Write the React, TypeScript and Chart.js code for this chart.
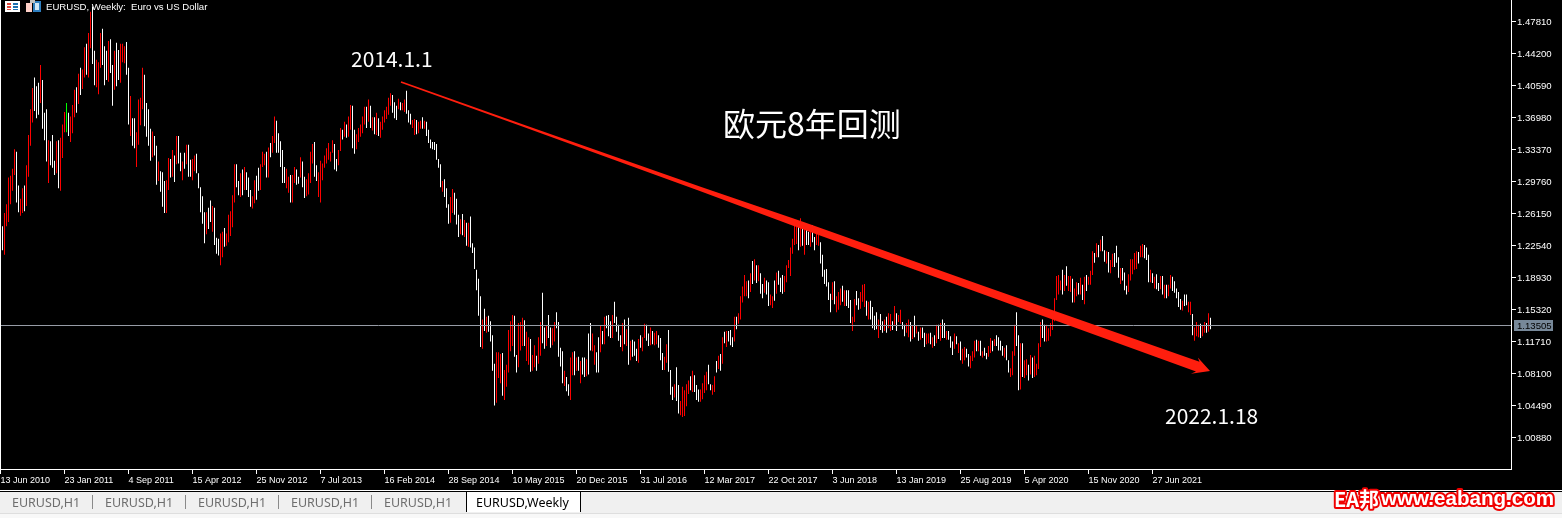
import React, { useEffect, useRef } from "react";
import { Chart, registerables } from "chart.js";

Chart.register(...registerables);

const title = "EURUSD, Weekly:  Euro vs US Dollar";
const xTickLabels = ["13 Jun 2010","23 Jan 2011","4 Sep 2011","15 Apr 2012","25 Nov 2012","7 Jul 2013","16 Feb 2014","28 Sep 2014","10 May 2015","20 Dec 2015","31 Jul 2016","12 Mar 2017","22 Oct 2017","3 Jun 2018","13 Jan 2019","25 Aug 2019","5 Apr 2020","15 Nov 2020","27 Jun 2021"];
const yTickValues = [1.4781,1.442,1.4059,1.3698,1.3337,1.2976,1.2615,1.2254,1.1893,1.1532,1.1171,1.081,1.0449,1.0088];
const currentPrice = 1.13505;
const tabs = ["EURUSD,H1","EURUSD,H1","EURUSD,H1","EURUSD,H1","EURUSD,H1","EURUSD,Weekly"];
const barsPerTick = 32;

// R = up week, W = down week, G = the one highlighted bar
const directions = (
"WRRRRRRWWR"+"RWRRRRWWWR"+"WWWRWWWRWR"+"RRGWRRRWRW"+"RRWRRWWRRR"+"WWWRWWRWWR"+"RRWWRWWRRR"+"RWWWWRWWRW"+"WWRRWRWRWW"+"RWRWWRRWWW"+"WWRWWRWWWR"+"RWRRRRRWW"+
"RWRWWWRRWWRRRWRWRRWW"+"WWWRRWRRWWRWWRRRRWWR"+"RRRRRRRWWRRWRWRRWWRR"+"RRRWRWRWRWRRRRRRWWWR"+"WRRWWWRRWRRWRWWWWWWW"+"WRWWWRRWWWRWRWRWWWWW"+
"WRWRWWWWRRRWRRRRRWWR"+"RRWRRWRRWRRWWRWWRRWW"+"WWRWWRRWRWRWWRWWRRWW"+"RWRWWWRWWWWRWRWRWWWR"+"WRRWWRWRRWWWRRWWWRWW"+"RRRRRWRWWWRRRRWWRRWR"+
"WRWRWWWRWRRRRRWRWRWR"+"WWRWWRRWRWWWRRRRRRRW"+"RWRWWRWWRRWWWWWWRWRR"+"RWRWWWRRWWRRRWRWWWWR"+"WWRWRRWRWRRWWRRWRWRW"+"RWWRRWRWRWRWWRWWWRWR"+
"WRRWWRRRWRWRWWRRWRWW"+"WWRWWRRRWWRWRRWRWRRR"+"RWWRRRRRRRRWRWRRWRRW"+"RWRWRRRWRWRWWRWRRWWW"+"RWWWRRRRRWRRWWWRWRWW"+"RWRWRRWWWWWRWWRRWRRR"+"WRRWRW"
).split("");

const highs = [
1.247,1.262,1.272,1.302,1.304,1.312,1.334,1.331,1.293,1.278,
1.290,1.293,1.316,1.350,1.379,1.403,1.415,1.405,1.409,1.429,
1.412,1.375,1.379,1.344,1.343,1.350,1.321,1.343,1.344,1.347,
1.362,1.376,1.386,1.375,1.371,1.384,1.401,1.404,1.419,1.426,
1.424,1.449,1.453,1.465,1.489,1.495,1.445,1.435,1.432,1.465,
1.470,1.450,1.445,1.456,1.458,1.429,1.445,1.454,1.446,1.453,
1.453,1.450,1.455,1.426,1.394,1.369,1.369,1.353,1.390,1.392,
1.426,1.418,1.386,1.379,1.357,1.354,1.349,1.338,1.320,1.309,
1.308,1.298,1.299,1.324,1.323,1.333,1.327,1.349,1.349,1.330,
1.320,1.330,1.339,1.339,1.322,1.323,1.327,1.329,1.307,1.291,
1.281,1.263,1.263,1.268,1.276,1.270,1.268,1.234,1.233,1.239,
1.241,1.245,1.239,1.260,1.264,1.282,1.317,1.317,1.298,
1.307,1.311,1.314,1.308,1.302,1.288,1.281,1.299,1.304,1.313,
1.317,1.331,1.329,1.331,1.336,1.341,1.349,1.371,1.366,1.352,
1.343,1.333,1.314,1.312,1.303,1.305,1.305,1.314,1.311,1.303,
1.325,1.320,1.303,1.300,1.307,1.331,1.340,1.342,1.316,1.308,
1.321,1.318,1.327,1.335,1.341,1.331,1.344,1.340,1.323,1.333,
1.358,1.356,1.365,1.362,1.371,1.384,1.383,1.356,1.351,1.358,
1.362,1.371,1.382,1.382,1.390,1.383,1.370,1.370,1.375,1.369,
1.365,1.371,1.378,1.382,1.392,1.397,1.395,1.387,1.383,1.391,
1.387,1.386,1.390,1.400,1.378,1.374,1.367,1.368,1.367,1.365,
1.366,1.370,1.366,1.365,1.356,1.345,1.342,1.342,1.340,1.323,
1.317,1.298,1.300,1.290,1.272,1.280,1.289,1.285,1.278,1.260,
1.255,1.261,1.254,1.251,1.251,1.258,1.228,
1.223,1.198,1.188,1.168,1.142,1.154,1.145,1.146,1.140,1.124,
1.092,1.105,1.105,1.103,1.104,1.085,1.091,1.130,1.140,1.147,
1.146,1.102,1.138,1.139,1.144,1.141,1.128,1.122,1.120,1.102,
1.113,1.101,1.122,1.139,1.172,1.133,1.135,1.147,1.133,1.132,
1.139,1.150,1.139,1.110,1.106,1.084,1.077,1.069,1.099,1.105,
1.106,1.099,1.100,1.095,1.099,1.099,1.097,1.126,1.138,1.126,
1.113,1.105,1.122,1.135,1.129,1.145,1.146,1.147,1.140,1.147,
1.162,1.145,1.136,1.124,1.138,1.142,1.131,1.144,1.118,1.119,
1.117,1.109,1.120,1.124,1.122,1.137,1.136,1.126,1.133,1.129,
1.127,1.129,1.124,1.121,1.104,1.100,1.114,1.130,1.085,1.066,
1.069,1.088,1.068,1.050,1.066,1.062,1.069,1.073,1.078,1.084,
1.079,1.068,1.063,1.063,1.070,1.079,1.083,1.091,1.069,1.068,
1.078,1.095,1.101,1.103,1.122,1.128,1.129,1.129,1.130,1.122,
1.145,1.145,1.149,
1.168,1.179,1.192,1.185,1.186,1.194,1.208,1.210,1.203,1.203,
1.194,1.182,1.189,1.186,1.184,1.170,1.168,1.186,1.195,1.197,
1.189,1.192,1.191,1.203,1.209,1.223,1.233,1.250,1.254,1.247,
1.256,1.244,1.246,1.243,1.241,1.243,1.248,1.235,1.243,1.241,
1.229,1.215,1.198,1.199,1.184,1.171,1.184,1.185,1.168,1.173,
1.177,1.180,1.175,1.175,1.175,1.164,1.145,1.165,1.174,1.166,
1.173,1.181,1.182,1.163,1.162,1.163,1.156,1.146,1.150,1.142,
1.148,1.140,1.142,1.145,1.149,1.148,1.140,1.157,1.149,1.147,
1.153,1.139,1.136,1.138,1.142,1.139,1.135,1.146,1.135,1.128,
1.133,1.133,1.127,1.126,1.126,1.127,1.122,1.124,1.136,1.136,
1.138,1.142,1.138,1.129,1.129,1.123,1.117,1.126,1.123,1.115,
1.117,1.109,1.111,1.109,1.103,1.101,1.106,1.118,1.119,1.118,
1.118,1.106,1.110,1.104,1.112,1.121,1.118,1.120,1.124,1.122,
1.118,1.112,1.110,1.113,1.096,1.087,1.106,1.136,1.150,1.124,
1.115,1.115,1.096,1.097,1.091,1.102,1.099,1.101,1.092,1.115,
1.139,1.142,1.136,1.136,1.132,1.138,1.145,1.166,1.191,1.192,
1.186,1.198,1.192,1.202,1.191,1.191,1.188,1.177,1.184,1.183,
1.189,1.181,1.190,1.192,1.190,1.197,1.219,1.217,1.228,1.226,
1.232,1.236,1.220,1.219,1.218,1.209,1.216,1.217,1.225,1.212,
1.200,1.200,1.195,1.180,1.193,1.210,1.210,1.217,1.219,1.218,
1.225,1.227,1.226,1.223,1.215,1.198,1.194,1.190,1.193,1.183,
1.191,1.191,1.181,1.181,1.181,1.192,1.190,1.185,1.177,1.173,
1.165,1.163,1.170,1.170,1.162,1.162,1.148,1.133,1.139,1.136,
1.137,1.135,1.139,1.138,1.149,1.144
];

const lows = [
1.220,1.215,1.247,1.252,1.272,1.287,1.305,1.274,1.263,1.259,
1.262,1.264,1.270,1.303,1.338,1.364,1.377,1.369,1.373,1.386,
1.357,1.344,1.320,1.296,1.316,1.313,1.305,1.307,1.290,1.287,
1.324,1.353,1.353,1.349,1.342,1.352,1.370,1.375,1.385,1.395,
1.402,1.415,1.418,1.415,1.448,1.430,1.406,1.404,1.396,1.426,
1.429,1.406,1.412,1.410,1.420,1.383,1.401,1.405,1.412,1.409,
1.432,1.431,1.418,1.362,1.349,1.338,1.335,1.314,1.339,1.361,
1.379,1.360,1.348,1.338,1.321,1.325,1.327,1.294,1.298,1.286,
1.269,1.262,1.262,1.288,1.302,1.303,1.297,1.317,1.318,1.309,
1.299,1.312,1.317,1.303,1.303,1.299,1.309,1.307,1.290,1.263,
1.250,1.228,1.238,1.244,1.252,1.241,1.226,1.216,1.214,1.203,
1.212,1.224,1.225,1.229,1.236,1.246,1.274,1.291,1.282,
1.280,1.282,1.288,1.288,1.280,1.269,1.267,1.273,1.277,1.287,
1.288,1.314,1.316,1.302,1.302,1.325,1.330,1.341,1.330,1.330,
1.314,1.296,1.296,1.290,1.285,1.274,1.274,1.296,1.294,1.295,
1.302,1.291,1.279,1.281,1.283,1.296,1.318,1.303,1.298,1.280,
1.274,1.299,1.313,1.318,1.322,1.320,1.330,1.311,1.309,1.316,
1.332,1.345,1.348,1.347,1.348,1.356,1.335,1.329,1.334,1.342,
1.348,1.352,1.362,1.358,1.365,1.358,1.355,1.351,1.350,1.349,
1.347,1.356,1.364,1.368,1.373,1.383,1.375,1.369,1.367,1.379,
1.378,1.378,1.376,1.374,1.364,1.362,1.358,1.350,1.351,1.352,
1.357,1.357,1.357,1.349,1.341,1.335,1.334,1.333,1.322,1.313,
1.291,1.286,1.280,1.268,1.250,1.251,1.262,1.260,1.249,1.235,
1.238,1.237,1.235,1.225,1.224,1.223,1.217,
1.199,1.175,1.146,1.111,1.109,1.129,1.127,1.128,1.117,1.084,
1.045,1.048,1.076,1.070,1.056,1.051,1.066,1.082,1.106,1.112,
1.100,1.082,1.088,1.107,1.112,1.112,1.095,1.091,1.083,1.084,
1.088,1.084,1.092,1.101,1.115,1.109,1.112,1.121,1.110,1.113,
1.117,1.132,1.100,1.089,1.070,1.067,1.061,1.056,1.051,1.079,
1.079,1.084,1.084,1.070,1.080,1.077,1.078,1.080,1.107,1.106,
1.091,1.082,1.082,1.105,1.114,1.114,1.132,1.123,1.121,1.121,
1.138,1.128,1.118,1.111,1.106,1.114,1.112,1.091,1.096,1.100,
1.101,1.095,1.093,1.110,1.106,1.121,1.118,1.112,1.113,1.114,
1.113,1.114,1.110,1.096,1.085,1.085,1.093,1.083,1.057,1.051,
1.054,1.050,1.036,1.034,1.032,1.033,1.044,1.058,1.062,1.060,
1.060,1.051,1.049,1.049,1.052,1.059,1.062,1.069,1.062,1.057,
1.060,1.082,1.086,1.084,1.092,1.115,1.111,1.117,1.113,1.111,
1.117,1.131,1.137,
1.142,1.161,1.168,1.168,1.166,1.173,1.182,1.186,1.183,1.185,
1.171,1.166,1.172,1.170,1.157,1.158,1.155,1.163,1.171,1.181,
1.173,1.171,1.173,1.184,1.200,1.191,1.216,1.226,1.227,1.220,
1.224,1.225,1.215,1.226,1.226,1.224,1.229,1.220,1.226,1.225,
1.205,1.190,1.182,1.179,1.164,1.150,1.164,1.159,1.150,1.153,
1.158,1.162,1.157,1.157,1.155,1.138,1.129,1.139,1.158,1.153,
1.154,1.162,1.156,1.146,1.142,1.142,1.132,1.130,1.131,1.121,
1.130,1.127,1.129,1.127,1.132,1.129,1.130,1.136,1.129,1.139,
1.137,1.131,1.123,1.127,1.122,1.117,1.120,1.122,1.126,1.118,
1.119,1.121,1.111,1.114,1.115,1.114,1.110,1.112,1.115,1.120,
1.118,1.121,1.121,1.119,1.119,1.110,1.102,1.109,1.114,1.104,
1.096,1.092,1.096,1.099,1.089,1.087,1.095,1.099,1.106,1.106,
1.101,1.099,1.101,1.097,1.100,1.104,1.106,1.112,1.112,1.107,
1.107,1.101,1.099,1.096,1.082,1.077,1.079,1.101,1.112,1.062,
1.063,1.077,1.076,1.079,1.073,1.080,1.076,1.077,1.079,1.086,
1.111,1.121,1.117,1.117,1.118,1.123,1.130,1.140,1.164,1.170,
1.175,1.170,1.174,1.180,1.174,1.173,1.161,1.161,1.168,1.170,
1.170,1.164,1.159,1.174,1.181,1.181,1.192,1.206,1.212,1.212,
1.219,1.219,1.207,1.205,1.195,1.194,1.201,1.201,1.206,1.189,
1.182,1.186,1.175,1.170,1.173,1.186,1.193,1.198,1.199,1.205,
1.212,1.212,1.211,1.209,1.184,1.184,1.183,1.177,1.176,1.174,
1.176,1.170,1.166,1.166,1.168,1.177,1.174,1.172,1.166,1.156,
1.153,1.152,1.157,1.158,1.150,1.147,1.124,1.118,1.123,1.122,
1.121,1.123,1.127,1.127,1.128,1.131
];

const barColor: Record<string, string> = { R: "#ff0000", W: "#ffffff", G: "#00ff00" };

export default function App() {
  const ref = useRef<HTMLCanvasElement | null>(null);
  useEffect(() => {
    const canvas = ref.current;
    if (!canvas) return;
    const n = Math.min(highs.length, lows.length, directions.length);
    const noPad = (s: any) => {
      s.paddingTop = 0;
      s.paddingBottom = 0;
      s.paddingLeft = 0;
      s.paddingRight = 0;
    };
    const chrome = {
      id: "chrome",
      beforeDraw(c: any) {
        const g = c.ctx;
        g.save();
        g.fillStyle = "#000000";
        g.fillRect(0, 0, 1562, 518);
        g.restore();
      },
      afterDatasetsDraw(c: any) {
        const g = c.ctx;
        const X = c.scales.x;
        const Y = c.scales.y;
        g.save();
        const py = Math.floor(Y.getPixelForValue(currentPrice)) + 0.5;
        g.strokeStyle = "#979ca6";
        g.lineWidth = 1;
        g.beginPath();
        g.moveTo(1, py);
        g.lineTo(1511, py);
        g.stroke();
        // trend arrow anchored to (bar, price)
        const ax = X.getPixelForValue(199.25), ay = Y.getPixelForValue(1.4098);
        const bx = X.getPixelForValue(603.75), by = Y.getPixelForValue(1.0838);
        const L = Math.hypot(bx - ax, by - ay);
        const ux = (bx - ax) / L, uy = (by - ay) / L;
        const nx = -uy, ny = ux;
        const pt = (a: number, o: number) => [bx + ux * a + nx * o, by + uy * a + ny * o];
        const shaft: [number, number][] = [[-L, 0.8], [-732, 1.1], [-541, 2.2], [-435, 3.6], [-244, 4], [-13, 5.2]];
        const poly = [
          ...shaft.map(([a, w]) => pt(a, -w)),
          pt(-16, -8.6),
          pt(0, 0),
          pt(-17, 9),
          ...shaft.slice().reverse().map(([a, w]) => pt(a, w)),
        ];
        g.fillStyle = "#ff1e0e";
        g.beginPath();
        poly.forEach((p, i) => (i ? g.lineTo(p[0], p[1]) : g.moveTo(p[0], p[1])));
        g.closePath();
        g.fill();
        g.restore();

        g.save();
        g.fillStyle = "#ffffff";
        g.textBaseline = "middle";
        g.textAlign = "left";
        g.font = '21px "Noto Sans CJK SC"';
        g.fillText("2014.1.1", 351, 59);
        g.fillText("2022.1.18", 1165, 416);
        g.font = '32px "Noto Sans CJK SC"';
        g.fillText("欧元8年回测", 723, 124);
        g.restore();
      },
      afterDraw(c: any) {
        const g = c.ctx;
        const Y = c.scales.y;
        g.save();
        // left edge of the plot
        g.fillStyle = "#ffffff";
        g.fillRect(0, 0, 1, 469);
        // title and icons
        g.textBaseline = "middle";
        g.textAlign = "left";
        g.font = '9.6px "Liberation Sans"';
        g.fillStyle = "#ffffff";
        g.fillText(title, 46, 7);
        g.fillStyle = "#ffffff";
        g.fillRect(5, 1, 15, 11);
        g.fillStyle = "#e0483c";
        g.fillRect(7, 3, 4, 2); g.fillRect(7, 6, 4, 2); g.fillRect(7, 9, 4, 1);
        g.fillStyle = "#1c6fb0";
        g.fillRect(13, 3, 5, 2); g.fillRect(13, 6, 5, 2); g.fillRect(13, 9, 5, 1);
        g.fillStyle = "#ffd0c8"; g.fillRect(26, 3, 6, 9);
        g.fillStyle = "#2f7fc0"; g.fillRect(33, 1, 8, 11);
        g.fillStyle = "#cfe6f6"; g.fillRect(35, 3, 4, 7);
        g.fillStyle = "#c0c0c0"; g.fillRect(30, 0, 5, 3);
        // current price tag
        const py = Math.floor(Y.getPixelForValue(currentPrice));
        g.fillStyle = "#778899";
        g.fillRect(1514, py - 5, 39, 11);
        g.fillStyle = "#000000";
        g.font = '9.6px "Liberation Sans"';
        g.fillText(currentPrice.toFixed(5), 1517, py + 1);
        // tab strip
        g.fillStyle = "#ffffff";
        g.fillRect(0, 490, 1562, 1);
        g.fillStyle = "#000000";
        g.fillRect(0, 491, 1562, 1);
        g.fillStyle = "#f0f0f0";
        g.fillRect(0, 492, 1562, 21);
        g.fillStyle = "#dedede";
        g.fillRect(0, 513, 1562, 1);
        g.fillStyle = "#f8f8f8";
        g.fillRect(0, 514, 1562, 4);
        g.font = '12.5px "Noto Sans"';
        tabs.forEach((t, i) => {
          const active = i === tabs.length - 1;
          if (active) {
            g.fillStyle = "#ffffff";
            g.fillRect(466, 492, 115, 20);
            g.strokeStyle = "#000000";
            g.lineWidth = 1;
            g.beginPath();
            g.moveTo(466.5, 512);
            g.lineTo(466.5, 491.5);
            g.lineTo(580.5, 491.5);
            g.lineTo(580.5, 512);
            g.stroke();
            g.fillStyle = "#000000";
            g.fillText(t, 476, 503);
          } else {
            g.fillStyle = "#6e6e6e";
            g.fillText(t, 12 + 93 * i, 503);
            if (i < 4) {
              g.fillStyle = "#8a8a8a";
              g.fillRect(92 + 93 * i, 495, 1, 14);
            }
          }
        });
        // watermark
        g.font = 'bold 20px "Noto Sans CJK SC"';
        g.lineJoin = "round";
        g.strokeStyle = "#f00000";
        g.lineWidth = 4;
        g.strokeText("EA邦", 1334, 499);
        g.fillStyle = "#ffffff";
        g.fillText("EA邦", 1334, 499);
        g.font = 'bold 20.6px "Liberation Sans"';
        g.strokeText("www.eabang.com", 1381, 499);
        g.fillText("www.eabang.com", 1381, 499);
        g.restore();
      },
    };
    const chart = new Chart(canvas, {
      type: "bar",
      data: {
        datasets: [
          {
            data: highs.slice(0, n).map((h, i) => ({ x: i, y: [lows[i], h] })) as any,
            backgroundColor: directions.slice(0, n).map((d) => barColor[d]),
            barThickness: 1,
            grouped: false,
            inflateAmount: 0,
            borderWidth: 0,
          } as any,
        ],
      },
      options: {
        animation: false,
        responsive: false,
        devicePixelRatio: 1,
        layout: { padding: { left: 0, top: 0, right: 0, bottom: 27 } },
        plugins: { legend: { display: false }, tooltip: { enabled: false } },
        scales: {
          x: {
            type: "linear",
            offset: false,
            min: -1.25,
            max: 754.25,
            afterBuildTicks: (s: any) => {
              s.ticks = xTickLabels.map((_, k) => ({ value: k * barsPerTick - 1 }));
            },
            afterFit: (s: any) => {
              s.height = 22;
              noPad(s);
            },
            ticks: {
              autoSkip: false,
              maxRotation: 0,
              align: "start",
              padding: 1,
              color: "#ffffff",
              font: { family: "Liberation Sans", size: 9 },
              callback: (_v: any, i: number) => xTickLabels[i],
            },
            grid: { drawOnChartArea: false, color: "#ffffff", tickLength: 5, lineWidth: 1, offset: false },
            border: { color: "#ffffff", width: 1 },
          },
          y: {
            position: "right",
            min: 0.97327,
            max: 1.5023,
            afterBuildTicks: (s: any) => {
              s.ticks = yTickValues.map((value) => ({ value }));
            },
            afterFit: (s: any) => {
              s.width = 51;
              noPad(s);
            },
            ticks: {
              autoSkip: false,
              padding: 1,
              color: "#ffffff",
              font: { family: "Liberation Sans", size: 9.6, lineHeight: 0.2 },
              callback: (v: any) => ["", Number(v).toFixed(5)],
            },
            grid: { drawOnChartArea: false, color: "#ffffff", tickLength: 5, lineWidth: 1 },
            border: { color: "#ffffff", width: 1 },
          },
        },
      },
      plugins: [chrome],
    } as any);
    return () => chart.destroy();
  }, []);
  return (
    <canvas
      ref={ref}
      width={1562}
      height={518}
      style={{ position: "fixed", left: 0, top: 0, display: "block", width: 1562, height: 518 }}
    />
  );
}
